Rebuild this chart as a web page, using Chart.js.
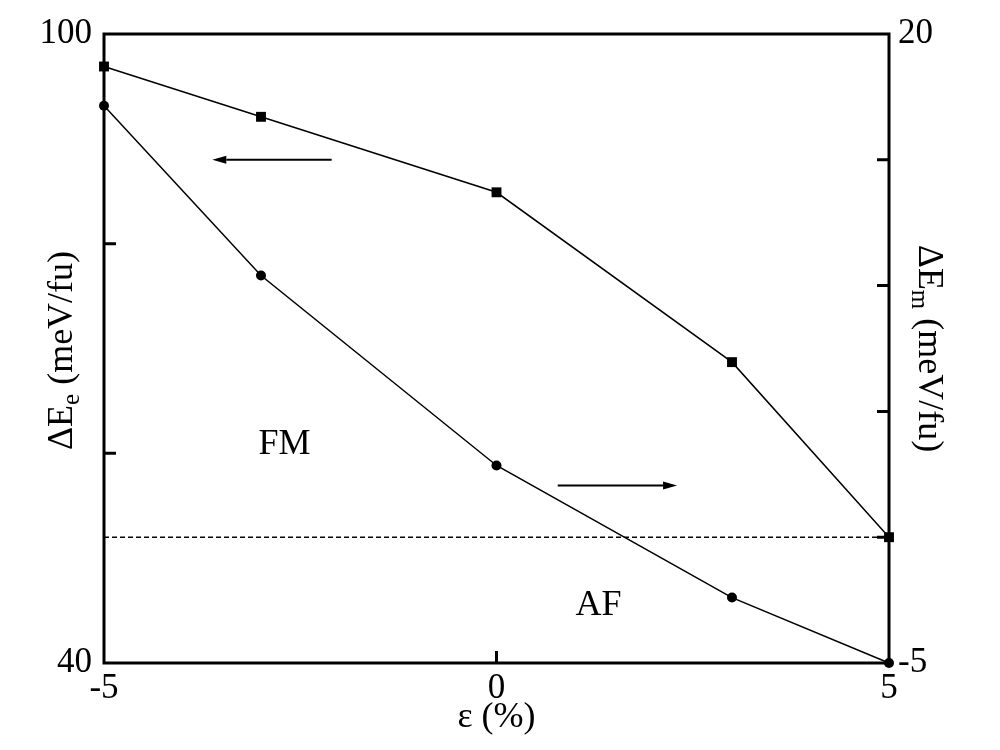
<!DOCTYPE html>
<html>
<head>
<meta charset="utf-8">
<script src="https://cdn.jsdelivr.net/npm/chart.js@4.4.1/dist/chart.umd.min.js"></script>
<style>
  html, body { margin: 0; padding: 0; background: #fff; }
  #wrap { width: 1000px; height: 750px; }
</style>
</head>
<body>
<div id="wrap"><canvas id="c" width="1000" height="750"></canvas></div>
<script>
// ---- data ----
const strain = [-5, -3, 0, 3, 5];                 // ε (%)
const deltaEe = [96.9, 92.1, 84.9, 68.7, 52.0];   // ΔE_e (meV/fu), left axis
const deltaEm = [17.15, 10.4, 2.85, -2.4, -5.0];  // ΔE_m (meV/fu), right axis
const boundaryX = [-5, 5];                        // dashed FM/AF boundary
const boundaryY = [0, 0];                         // on right axis
const xTickLabels = [-5, 0, 5];
const leftTickLabels = [40, 100];
const rightTickLabels = [-5, 20];
const leftMinorTicks = [60, 80];
const rightMinorTicks = [0, 5, 10, 15];
const xMinorTicks = [0];
const regionLabels = ['FM', 'AF'];
const regionX = [-2.7, 1.3];
const regionY = [60.8, 45.5];   // left-axis values
const arrowLeft = { x0: -2.1, x1: -3.62, y: 88 };  // points to left axis (ΔE_e)
const arrowRight = { x0: 0.78, x1: 2.3, y: 2.05 }; // points to right axis (ΔE_m)

const FONT = "'Liberation Serif', 'Times New Roman', serif";

const decor = {
  id: 'decor',
  beforeDatasetsDraw(chart) {
    const ctx = chart.ctx;
    const a = chart.chartArea;
    const xs = chart.scales.x, yl = chart.scales.y, yr = chart.scales.y1;
    ctx.save();
    ctx.strokeStyle = '#000';
    ctx.fillStyle = '#000';
    // frame
    ctx.lineWidth = 3;
    ctx.strokeRect(a.left, a.top, a.right - a.left, a.bottom - a.top);
    // inward ticks
    const tl = 12;
    ctx.beginPath();
    leftMinorTicks.forEach(v => { const p = yl.getPixelForValue(v); ctx.moveTo(a.left, p); ctx.lineTo(a.left + tl, p); });
    rightMinorTicks.forEach(v => { const p = yr.getPixelForValue(v); ctx.moveTo(a.right, p); ctx.lineTo(a.right - tl, p); });
    xMinorTicks.forEach(v => { const p = xs.getPixelForValue(v); ctx.moveTo(p, a.bottom); ctx.lineTo(p, a.bottom - tl); });
    ctx.stroke();
    // arrows
    function arrow(x0, x1, py) {
      const p0 = xs.getPixelForValue(x0), p1 = xs.getPixelForValue(x1);
      const dir = Math.sign(p1 - p0);
      const head = 14, hw = 4;
      ctx.lineWidth = 2;
      ctx.beginPath();
      ctx.moveTo(p0, py); ctx.lineTo(p1 - dir * head, py);
      ctx.stroke();
      ctx.beginPath();
      ctx.moveTo(p1, py);
      ctx.lineTo(p1 - dir * head, py - hw);
      ctx.lineTo(p1 - dir * head, py + hw);
      ctx.closePath();
      ctx.fill();
    }
    arrow(arrowLeft.x0, arrowLeft.x1, yl.getPixelForValue(arrowLeft.y));
    arrow(arrowRight.x0, arrowRight.x1, yr.getPixelForValue(arrowRight.y));
    // region labels
    ctx.font = '36px ' + FONT;
    ctx.textAlign = 'center';
    ctx.textBaseline = 'middle';
    regionLabels.forEach((t, i) => {
      ctx.fillText(t, xs.getPixelForValue(regionX[i]), yl.getPixelForValue(regionY[i]));
    });
    // y-axis titles with subscripts
    function yTitle(cx, cy, rot, sub) {
      const big = '36px ' + FONT, small = '25px ' + FONT;
      ctx.font = big; const w1 = ctx.measureText('ΔE').width;
      const w3 = ctx.measureText(' (meV/fu)').width;
      ctx.font = small; const w2 = ctx.measureText(sub).width;
      const w = w1 + w2 + w3;
      ctx.save();
      ctx.translate(cx, cy);
      ctx.rotate(rot);
      ctx.textAlign = 'left';
      ctx.textBaseline = 'alphabetic';
      let x = -w / 2;
      const base = 12;
      ctx.font = big; ctx.fillText('ΔE', x, base); x += w1;
      ctx.font = small; ctx.fillText(sub, x, base + 7); x += w2;
      ctx.font = big; ctx.fillText(' (meV/fu)', x, base);
      ctx.restore();
    }
    const cy = (a.top + a.bottom) / 2;
    yTitle(a.left - 44, cy + 2, -Math.PI / 2, 'e');
    yTitle(a.right + 42, cy, Math.PI / 2, 'm');
    ctx.restore();
  }
};

const tickFont = { family: FONT, size: 35 };

new Chart(document.getElementById('c'), {
  type: 'line',
  data: {
    datasets: [
      {
        label: 'ΔE_e',
        data: strain.map((x, i) => ({ x, y: deltaEe[i] })),
        yAxisID: 'y',
        borderColor: '#000', backgroundColor: '#000', borderWidth: 1.5,
        pointStyle: 'rect', pointRadius: 7, pointBorderWidth: 0,
        tension: 0, clip: false
      },
      {
        label: 'ΔE_m',
        data: strain.map((x, i) => ({ x, y: deltaEm[i] })),
        yAxisID: 'y1',
        borderColor: '#000', backgroundColor: '#000', borderWidth: 1.5,
        pointStyle: 'circle', pointRadius: 5, pointBorderWidth: 0,
        tension: 0, clip: false
      },
      {
        label: 'boundary',
        data: boundaryX.map((x, i) => ({ x, y: boundaryY[i] })),
        yAxisID: 'y1',
        borderColor: '#000', borderWidth: 1.5, borderDash: [5, 3],
        pointRadius: 0, clip: false
      }
    ]
  },
  options: {
    responsive: false,
    animation: false,
    devicePixelRatio: 1,
    layout: { padding: { top: 34, left: 0, right: 0, bottom: 0 } },
    plugins: { legend: { display: false }, tooltip: { enabled: false } },
    scales: {
      x: {
        type: 'linear', min: -5, max: 5,
        afterBuildTicks: s => { s.ticks = xTickLabels.map(v => ({ value: v })); },
        ticks: { font: tickFont, color: '#000', padding: 5, autoSkip: false, maxRotation: 0,
                 callback: v => xTickLabels.includes(v) ? String(v) : '' },
        grid: { display: false, drawTicks: false },
        border: { display: false },
        title: { display: true, text: 'ε (%)', color: '#000', font: { family: FONT, size: 36 }, padding: { top: 0, bottom: 11 } },
        afterFit: s => { s.height = 87; }
      },
      y: {
        type: 'linear', position: 'left', min: 40, max: 100,
        afterBuildTicks: s => { s.ticks = leftTickLabels.map(v => ({ value: v })); },
        ticks: { font: tickFont, color: '#000', padding: 12, callback: v => String(v) },
        grid: { display: false, drawTicks: false },
        border: { display: false },
        afterFit: s => { s.width = 104; }
      },
      y1: {
        type: 'linear', position: 'right', min: -5, max: 20,
        afterBuildTicks: s => { s.ticks = rightTickLabels.map(v => ({ value: v })); },
        ticks: { font: tickFont, color: '#000', padding: 9, callback: v => String(v) },
        grid: { display: false, drawTicks: false },
        border: { display: false },
        afterFit: s => { s.width = 111; }
      }
    }
  },
  plugins: [decor]
});
</script>
</body>
</html>
